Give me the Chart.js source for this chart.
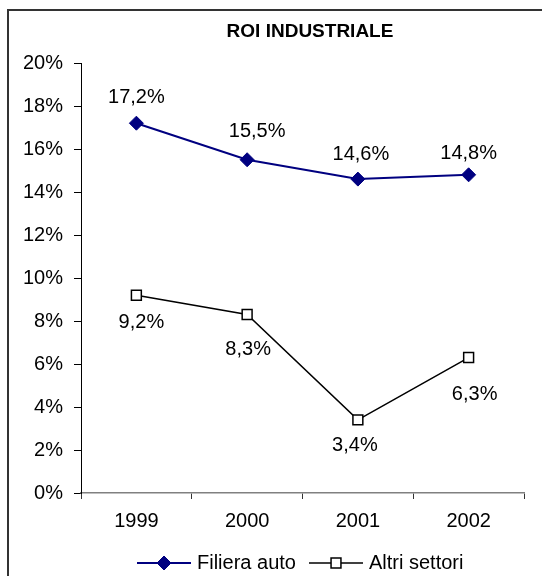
<!DOCTYPE html>
<html>
<head>
<meta charset="utf-8">
<script src="https://cdn.jsdelivr.net/npm/chart.js@4/dist/chart.umd.min.js"></script>
<style>
  html, body { margin: 0; padding: 0; background: #fff; overflow: hidden; }
  #wrap { width: 542px; height: 576px; }
</style>
</head>
<body>
<div id="wrap"><canvas id="roi" width="542" height="576"></canvas></div>
<script>
const years = ["1999", "2000", "2001", "2002"];
const filieraAuto = [17.2, 15.5, 14.6, 14.8];
const altriSettori = [9.2, 8.3, 3.4, 6.3];
const yTicks = [0, 2, 4, 6, 8, 10, 12, 14, 16, 18, 20];

// where each value label sits relative to its point (dx, dy)
const labelOffsets = [
  [[0, -26], [10, -28], [3, -25], [0, -21]],
  [[5, 27], [1, 35], [-3, 26], [6, 37]],
];

const FONT = "'Liberation Sans', Arial, sans-serif";
const NAVY = "#000080";

const fmt = (v) => String(v.toFixed(1)).replace(".", ",") + "%";

const frame = {
  id: "frame",
  beforeDraw(chart) {
    const c = chart.ctx;
    c.save();
    c.fillStyle = "#fff";
    c.fillRect(0, 0, chart.width, chart.height);
    c.strokeStyle = "#333";
    c.lineWidth = 2;
    c.beginPath();
    c.moveTo(8, chart.height + 2);
    c.lineTo(8, 10);
    c.lineTo(chart.width + 2, 10);
    c.stroke();
    c.fillStyle = "#000";
    c.font = "bold 19px " + FONT;
    c.textAlign = "center";
    c.textBaseline = "middle";
    c.fillText("ROI INDUSTRIALE", 310, 32);
    c.restore();
  },
};

const valueLabels = {
  id: "valueLabels",
  afterDatasetsDraw(chart) {
    const c = chart.ctx;
    c.save();
    c.fillStyle = "#000";
    c.font = "20px " + FONT;
    c.textAlign = "center";
    c.textBaseline = "middle";
    chart.data.datasets.forEach((ds, di) => {
      chart.getDatasetMeta(di).data.forEach((pt, i) => {
        const [dx, dy] = labelOffsets[di][i];
        c.fillText(fmt(ds.data[i]), pt.x + dx, pt.y + dy);
      });
    });
    c.restore();
  },
};

const lineLegend = {
  id: "lineLegend",
  afterDraw(chart) {
    const c = chart.ctx;
    const y = 563;
    const items = [
      { x: 137, ds: chart.data.datasets[0] },
      { x: 309, ds: chart.data.datasets[1] },
    ];
    c.save();
    items.forEach(({ x, ds }) => {
      c.strokeStyle = ds.borderColor;
      c.lineWidth = ds.borderWidth;
      c.beginPath();
      c.moveTo(x, y);
      c.lineTo(x + 54, y);
      c.stroke();
      c.fillStyle = ds.pointBackgroundColor;
      c.strokeStyle = ds.pointBorderColor;
      c.lineWidth = ds.pointBorderWidth;
      Chart.helpers.drawPoint(c, { pointStyle: ds.pointStyle, radius: ds.pointRadius, borderWidth: ds.pointBorderWidth }, x + 27, y);
      c.fillStyle = "#000";
      c.font = "20px " + FONT;
      c.textAlign = "left";
      c.textBaseline = "middle";
      c.fillText(ds.label, x + 60, y);
    });
    c.restore();
  },
};

new Chart(document.getElementById("roi"), {
  type: "line",
  data: {
    labels: years,
    datasets: [
      {
        label: "Filiera auto",
        data: filieraAuto,
        borderColor: NAVY,
        borderWidth: 2,
        pointStyle: "rectRot",
        pointRadius: 7,
        pointBackgroundColor: NAVY,
        pointBorderColor: NAVY,
        pointBorderWidth: 1,
        tension: 0,
      },
      {
        label: "Altri settori",
        data: altriSettori,
        borderColor: "#000",
        borderWidth: 1.5,
        pointStyle: "rect",
        pointRadius: 7,
        pointBackgroundColor: "#fff",
        pointBorderColor: "#000",
        pointBorderWidth: 1.5,
        tension: 0,
      },
    ],
  },
  options: {
    responsive: false,
    animation: false,
    layout: { padding: { top: 63, right: 18, bottom: 0, left: 0 } },
    plugins: {
      legend: { display: false },
      title: { display: false },
      tooltip: { enabled: false },
    },
    scales: {
      x: {
        offset: true,
        grid: { offset: true, drawOnChartArea: false, color: "#333", tickLength: 6 },
        border: { color: "#808080", width: 1.5 },
        ticks: { color: "#000", padding: 10, font: { family: FONT, size: 20 } },
        afterFit(s) { s.height = 83; },
      },
      y: {
        min: 0,
        max: 20,
        afterBuildTicks(s) { s.ticks = yTicks.map((v) => ({ value: v })); },
        grid: { drawOnChartArea: false, color: "#000", tickLength: 7 },
        border: { color: "#000", width: 1 },
        ticks: { color: "#000", padding: 11, font: { family: FONT, size: 20 }, callback: (v) => v + "%" },
        afterFit(s) { s.width = 81; },
      },
    },
  },
  plugins: [frame, valueLabels, lineLegend],
});
</script>
</body>
</html>
